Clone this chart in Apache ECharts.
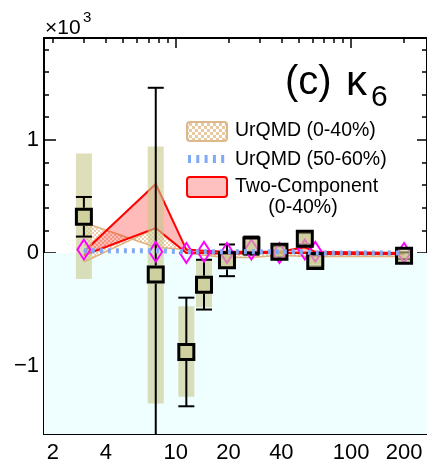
<!DOCTYPE html>
<html>
<head>
<meta charset="utf-8">
<script src="https://cdn.jsdelivr.net/npm/echarts@6/dist/echarts.min.js"></script>
<style>
  html, body { margin: 0; padding: 0; background: #fff; }
  #chart { width: 427px; height: 465px; }
</style>
</head>
<body>
<div id="chart"></div>
<script>
// Collision energies (GeV)
const energies = [3, 7.7, 11.5, 14.5, 19.6, 27, 39, 54.4, 62.4, 200];

// Measured kappa6 (x10^3), statistical errors, systematic ranges
const kappa6   = [0.32, -0.19, -0.875, -0.28, -0.065, 0.065, 0.01, 0.125, -0.07, -0.025];
const statErr  = [0.175, 1.65, 0.48, 0.22, 0.14, 0.08, 0.05, 0.05, 0.05, 0.03];
const sysLow   = [-0.23, -1.33, -1.27, -0.48, -0.14, 0.02, -0.03, 0.09, -0.1, -0.05];
const sysHigh  = [0.88, 0.94, -0.47, -0.06, 0.01, 0.11, 0.05, 0.16, -0.04, 0.0];

// Peripheral data points (open diamonds)
const periph   = [0.03, 0.01, 0.0, 0.01, 0.0, 0.03, 0.0, 0.03, 0.01, 0.0];

// UrQMD (0-40%) band edges
const urqmdCentA = [0.27, 0.05, 0.03, 0.01, 0.0, 0.01, 0.0, 0.01, 0.0, 0.0];
const urqmdCentB = [-0.08, 0.22, 0.0, -0.02, -0.04, -0.04, -0.02, -0.03, -0.03, -0.03];

// UrQMD (50-60%) line
const urqmdPeriph = [0.02, 0.02, 0.01, 0.01, 0.01, 0.01, 0.01, 0.01, 0.0, 0.0];

// Two-Component (0-40%) band edges
const twoCompHigh = [0.01, 0.61, 0.03, 0.02, 0.01, 0.01, 0.01, 0.05, 0.01, 0.0];
const twoCompLow  = [-0.02, 0.22, 0.0, 0.0, -0.01, 0.0, 0.0, 0.0, -0.01, -0.01];

// Axis ticks
const xLabelVals = [2, 4, 10, 20, 40, 100, 200];
const xMajorTicks = [10, 100];
const xMinorTicks = [2, 3, 4, 5, 6, 7, 8, 9, 20, 30, 40, 50, 60, 70, 80, 90, 200];
const yMajorTicks = [-1, 0, 1];
const yMinorTicks = [-1.6, -1.4, -1.2, -0.8, -0.6, -0.4, -0.2, 0.2, 0.4, 0.6, 0.8, 1.2, 1.4, 1.6, 1.8];

const lg = Math.log10;
const X_MIN = 0.2499, X_MAX = 2.4317;
const Y_MIN = -1.6, Y_MAX = 1.9;
const FONT = '"Liberation Sans", Arial, Helvetica, sans-serif';

function checker(cell, color) {
  const c = document.createElement('canvas');
  c.width = c.height = cell * 2;
  const g = c.getContext('2d');
  g.fillStyle = color;
  g.fillRect(0, 0, cell, cell);
  g.fillRect(cell, cell, cell, cell);
  return c;
}
const hatchPlot = { image: checker(2, 'rgba(232,190,145,0.75)'), repeat: 'repeat' };
const hatchLegend = { image: checker(3, '#e9c9a0'), repeat: 'repeat' };

const TAN = '#e2b07c';
const OLIVE = 'rgba(200,200,138,0.6)';

function xAxisDef(pos, ticks, len, labels) {
  return {
    type: 'value', position: pos, min: X_MIN, max: X_MAX,
    axisLine: { show: true, onZero: false, lineStyle: { color: '#000', width: 2 } },
    axisTick: { show: true, inside: true, length: len, customValues: ticks.map(lg),
                lineStyle: { color: '#000', width: 1.5 } },
    axisLabel: labels ? {
      show: true, customValues: labels.map(lg), margin: 8, color: '#000',
      fontSize: 22, fontFamily: FONT,
      formatter: v => String(Math.round(Math.pow(10, v)))
    } : { show: false },
    splitLine: { show: false }
  };
}
function yAxisDef(pos, ticks, len, labels) {
  return {
    type: 'value', position: pos, min: Y_MIN, max: Y_MAX,
    axisLine: { show: true, onZero: false, lineStyle: { color: '#000', width: 2 } },
    axisTick: { show: true, inside: true, length: len, customValues: ticks,
                lineStyle: { color: '#000', width: 1.5 } },
    axisLabel: labels ? {
      show: true, customValues: labels, margin: 5, color: '#000',
      fontSize: 22, fontFamily: FONT,
      formatter: v => { const r = Math.round(v); return r < 0 ? '\u2212' + Math.abs(r) : String(r); }
    } : { show: false },
    splitLine: { show: false }
  };
}

function bandRender(edgeA, edgeB, fill, stroke, width) {
  return function (params, api) {
    const a = energies.map((e, i) => api.coord([lg(e), edgeA[i]]));
    const b = energies.map((e, i) => api.coord([lg(e), edgeB[i]]));
    return {
      type: 'group',
      children: [
        { type: 'polygon', shape: { points: a.concat(b.slice().reverse()) }, style: { fill: fill, stroke: null } },
        { type: 'polyline', shape: { points: a }, style: { fill: null, stroke: stroke, lineWidth: width } },
        { type: 'polyline', shape: { points: b }, style: { fill: null, stroke: stroke, lineWidth: width } }
      ]
    };
  };
}

const chart = echarts.init(document.getElementById('chart'), null, { renderer: 'canvas' });

const option = {
  animation: false,
  backgroundColor: '#fff',
  grid: { left: 44, top: 38, right: -1, bottom: 31, containLabel: false },
  xAxis: [
    xAxisDef('bottom', xMajorTicks, 10, xLabelVals),
    xAxisDef('bottom', xMinorTicks, 5, null),
    xAxisDef('top', xMajorTicks, 10, null),
    xAxisDef('top', xMinorTicks, 5, null)
  ],
  yAxis: [
    yAxisDef('left', yMajorTicks, 12, yMajorTicks),
    yAxisDef('left', yMinorTicks, 5, null),
    yAxisDef('right', yMajorTicks, 10, null),
    yAxisDef('right', yMinorTicks, 5, null)
  ],
  series: [
    {
      // negative-value region shading
      type: 'custom', clip: true, silent: true,
      data: [[X_MIN, 0]],
      renderItem: (params, api) => {
        const p0 = api.coord([X_MIN, 0]);
        const p1 = api.coord([X_MAX, Y_MIN]);
        return { type: 'rect', shape: { x: p0[0], y: p0[1], width: p1[0] - p0[0], height: p1[1] - p0[1] },
                 style: { fill: '#effefe' } };
      }
    },
    {
      name: 'UrQMD (0-40%)', type: 'custom', clip: true, silent: true,
      data: [[lg(energies[0]), urqmdCentA[0]]],
      renderItem: bandRender(urqmdCentA, urqmdCentB, hatchPlot, TAN, 1.6)
    },
    {
      name: 'Two-Component (0-40%)', type: 'custom', clip: true, silent: true,
      data: [[lg(energies[0]), twoCompHigh[0]]],
      renderItem: bandRender(twoCompHigh, twoCompLow, 'rgba(255,0,0,0.27)', '#ff0000', 2)
    },
    {
      name: 'UrQMD (50-60%)', type: 'line', silent: true, showSymbol: false,
      data: energies.map((e, i) => [lg(e), urqmdPeriph[i]]),
      lineStyle: { color: '#80aaf6', width: 5, type: [3, 5] }
    },
    {
      name: 'periph', type: 'scatter', silent: true,
      symbol: 'diamond', symbolSize: [13, 20],
      data: energies.map((e, i) => [lg(e), periph[i]]),
      itemStyle: { color: 'rgba(0,0,0,0)', borderColor: '#ff00ff', borderWidth: 2, opacity: 1 }
    },
    {
      name: 'sys', type: 'custom', clip: true, silent: true,
      data: energies.map((e, i) => [lg(e), sysLow[i], sysHigh[i]]),
      renderItem: (params, api) => {
        const lo = api.coord([api.value(0), api.value(1)]);
        const hi = api.coord([api.value(0), api.value(2)]);
        return { type: 'rect', shape: { x: lo[0] - 8, y: hi[1], width: 16, height: lo[1] - hi[1] },
                 style: { fill: OLIVE } };
      }
    },
    {
      name: 'stat', type: 'custom', clip: true, silent: true,
      data: energies.map((e, i) => [lg(e), kappa6[i], statErr[i]]),
      renderItem: (params, api) => {
        const x = api.value(0), y = api.value(1), err = api.value(2);
        const c = api.coord([x, y]);
        const t = api.coord([x, y + err]);
        const b = api.coord([x, y - err]);
        const h = 9, w = 8;
        const st = { stroke: '#000', lineWidth: 2 };
        const kids = [];
        if (t[1] < c[1] - h) {
          kids.push({ type: 'line', shape: { x1: c[0], y1: c[1] - h, x2: c[0], y2: t[1] }, style: st });
        }
        kids.push({ type: 'line', shape: { x1: c[0] - w, y1: t[1], x2: c[0] + w, y2: t[1] }, style: st });
        if (b[1] > c[1] + h) {
          kids.push({ type: 'line', shape: { x1: c[0], y1: c[1] + h, x2: c[0], y2: b[1] }, style: st });
        }
        kids.push({ type: 'line', shape: { x1: c[0] - w, y1: b[1], x2: c[0] + w, y2: b[1] }, style: st });
        return { type: 'group', children: kids };
      }
    },
    {
      name: 'data', type: 'scatter', silent: true,
      symbol: 'rect', symbolSize: 15,
      data: energies.map((e, i) => [lg(e), kappa6[i]]),
      itemStyle: { color: OLIVE, borderColor: '#000', borderWidth: 3, opacity: 1 }
    }
  ],
  graphic: [
    // axis multiplier
    { type: 'text', x: 45, y: 28, style: { text: '\u00d710', font: '21px ' + FONT, fill: '#000', textVerticalAlign: 'middle' } },
    { type: 'text', x: 83, y: 18, style: { text: '3', font: '15px ' + FONT, fill: '#000', textVerticalAlign: 'middle' } },
    // panel title
    { type: 'text', x: 285, y: 83, style: { text: '(c)', font: '40px ' + FONT, fill: '#000', textVerticalAlign: 'middle' } },
    { type: 'text', x: 346, y: 83, style: { text: '\u03ba', font: '42px ' + FONT, fill: '#000', textVerticalAlign: 'middle' } },
    { type: 'text', x: 371, y: 97.5, style: { text: '6', font: '30px ' + FONT, fill: '#000', textVerticalAlign: 'middle' } },
    // legend
    { type: 'rect', shape: { x: 187, y: 122, width: 40, height: 19, r: 3 },
      style: { fill: hatchLegend, stroke: '#dcb88a', lineWidth: 2 } },
    { type: 'text', x: 235, y: 131, style: { text: 'UrQMD (0-40%)', font: '19.5px ' + FONT, fill: '#000', textVerticalAlign: 'middle' } },
    { type: 'line', shape: { x1: 188, y1: 159, x2: 227, y2: 159 },
      style: { stroke: '#80aaf6', lineWidth: 8, lineDash: [3, 5.3] } },
    { type: 'text', x: 235, y: 160, style: { text: 'UrQMD (50-60%)', font: '19.5px ' + FONT, fill: '#000', textVerticalAlign: 'middle' } },
    { type: 'rect', shape: { x: 187, y: 177, width: 40, height: 20, r: 3 },
      style: { fill: '#ffc0c0', stroke: '#ff0000', lineWidth: 2 } },
    { type: 'text', x: 235, y: 186.5, style: { text: 'Two-Component', font: '19.5px ' + FONT, fill: '#000', textVerticalAlign: 'middle' } },
    { type: 'text', x: 303, y: 208, style: { text: '(0-40%)', font: '19.5px ' + FONT, fill: '#000', textAlign: 'center', textVerticalAlign: 'middle' } }
  ]
};

chart.setOption(option);
</script>
</body>
</html>
